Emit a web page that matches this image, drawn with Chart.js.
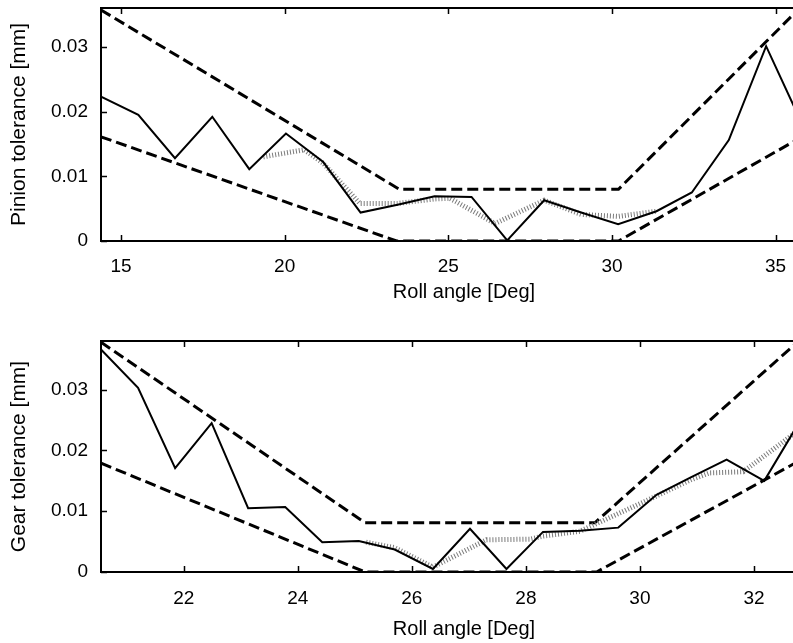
<!DOCTYPE html>
<html>
<head>
<meta charset="utf-8">
<script src="https://cdn.jsdelivr.net/npm/chart.js@4.4.1/dist/chart.umd.min.js"></script>
<style>
html, body { margin: 0; padding: 0; overflow: hidden; background: #fff; width: 793px; height: 643px; }
.box { position: absolute; left: 0; width: 827px; }
</style>
</head>
<body>
<div class="box" style="top:0;height:321px"><canvas id="pinion"></canvas></div>
<div class="box" style="top:321px;height:322px"><canvas id="gear"></canvas></div>
<script>
// Pinion (top plot)
const pinionAngle = [14.39, 15.53, 16.65, 17.79, 18.92, 20.04, 21.18, 22.32, 23.45, 24.58, 25.71, 26.80, 27.93, 29.06, 30.19, 31.36, 32.44, 33.57, 34.71, 35.88];
const pinionTol   = [0.0223, 0.0195, 0.0128, 0.0192, 0.0111, 0.0166, 0.0122, 0.0044, 0.0056, 0.0069, 0.0068, 0.0001, 0.0063, 0.0044, 0.0026, 0.0046, 0.0075, 0.0156, 0.0301, 0.0173];
// dotted curve, only the part where it leaves the solid one
const pinionAltAngle = [19.35, 20.60, 21.18, 22.30, 23.45, 24.58, 25.05, 26.43, 27.93, 29.06, 30.19, 31.36];
const pinionAltTol   = [0.0130, 0.0141, 0.0120, 0.0058, 0.0058, 0.0065, 0.0066, 0.0027, 0.0063, 0.0041, 0.0038, 0.0046];
const pinionUpperAngle = [14.39, 23.50, 30.20, 35.60];
const pinionUpperTol   = [0.0357, 0.0080, 0.0080, 0.0353];
const pinionLowerAngle = [14.39, 23.42, 30.20, 35.60];
const pinionLowerTol   = [0.0161, 0.0000, 0.0000, 0.0155];

// Gear (bottom plot)
const gearAngle = [20.55, 21.20, 21.85, 22.49, 23.13, 23.78, 24.43, 25.07, 25.70, 26.37, 27.02, 27.66, 28.30, 28.95, 29.62, 30.29, 30.90, 31.52, 32.18, 32.81];
const gearTol   = [0.0366, 0.0303, 0.0171, 0.0245, 0.0105, 0.0107, 0.0049, 0.0051, 0.0037, 0.0005, 0.0071, 0.0005, 0.0066, 0.0068, 0.0073, 0.0127, 0.0156, 0.0185, 0.0150, 0.0249];
const gearAltAngle = [25.20, 25.70, 26.37, 27.31, 28.07, 28.30, 28.95, 29.62, 30.29, 30.90, 31.22, 31.81, 32.81];
const gearAltTol   = [0.0049, 0.0040, 0.0008, 0.0053, 0.0054, 0.0059, 0.0067, 0.0096, 0.0125, 0.0152, 0.0163, 0.0165, 0.0235];
const gearUpperAngle = [20.55, 25.18, 29.21, 32.70];
const gearUpperTol   = [0.0378, 0.0081, 0.0081, 0.0373];
const gearLowerAngle = [20.55, 25.18, 29.24, 32.70];
const gearLowerTol   = [0.0179, 0.0000, 0.0000, 0.0178];

const yTicks = ["0", "0.01", "0.02", "0.03"];
const FONT = "'Liberation Sans', Arial, sans-serif";

function pts(xs, ys) {
    return xs.map((x, i) => ({ x: x, y: ys[i] }));
}

// box round the plot and inward tick marks
const framePlugin = {
    id: "frame",
    afterDraw(chart) {
        const { ctx, chartArea: a, scales } = chart;
        ctx.save();
        ctx.strokeStyle = "#000";
        ctx.lineWidth = 2;
        ctx.beginPath();
        ctx.rect(a.left, a.top, a.right - a.left, a.bottom - a.top);
        ctx.stroke();
        ctx.lineWidth = 1.5;
        ctx.beginPath();
        scales.x.ticks.forEach(t => {
            const px = Math.round(scales.x.getPixelForValue(t.value)) + 0.5;
            ctx.moveTo(px, a.bottom); ctx.lineTo(px, a.bottom - 6);
            ctx.moveTo(px, a.top); ctx.lineTo(px, a.top + 6);
        });
        scales.y.ticks.forEach(t => {
            const py = Math.round(scales.y.getPixelForValue(t.value)) + 0.5;
            ctx.moveTo(a.left, py); ctx.lineTo(a.left + 6, py);
        });
        ctx.stroke();
        ctx.restore();
    }
};

function makeChart(id, cfg) {
    const datasets = [
        { data: pts(cfg.angle, cfg.tol), borderColor: "#000", borderWidth: 2 },
        { data: pts(cfg.altAngle, cfg.altTol), borderColor: "#7a7a7a", borderWidth: 5, borderDash: [1, 2] },
        { data: pts(cfg.upAngle, cfg.upTol), borderColor: "#000", borderWidth: 3, borderDash: [11, 5] },
        { data: pts(cfg.loAngle, cfg.loTol), borderColor: "#000", borderWidth: 3, borderDash: [11, 5] }
    ];
    return new Chart(document.getElementById(id), {
        type: "line",
        data: { datasets: datasets },
        options: {
            responsive: true,
            maintainAspectRatio: false,
            animation: false,
            events: [],
            layout: { padding: { top: cfg.padTop, left: 0, right: 0, bottom: 0 } },
            elements: { point: { radius: 0 }, line: { tension: 0, fill: false } },
            plugins: { legend: { display: false }, tooltip: { enabled: false } },
            scales: {
                x: {
                    type: "linear",
                    min: cfg.xMin,
                    max: cfg.xMax,
                    grid: { display: false, drawTicks: false },
                    border: { display: false },
                    ticks: {
                        stepSize: cfg.xStep,
                        includeBounds: false,
                        padding: cfg.xTickPad,
                        color: "#000",
                        font: { family: FONT, size: 19 },
                        callback: v => String(v)
                    },
                    title: {
                        display: true,
                        text: "Roll angle [Deg]",
                        color: "#000",
                        padding: cfg.xTitlePad,
                        font: { family: FONT, size: 20 }
                    },
                    afterFit: s => {
                        s.height = cfg.xHeight;
                        s.paddingLeft = 0;
                        s.paddingRight = 0;
                    }
                },
                y: {
                    min: 0,
                    max: cfg.yMax,
                    grid: { display: false, drawTicks: false },
                    border: { display: false },
                    ticks: {
                        stepSize: 0.01,
                        includeBounds: false,
                        padding: 13,
                        color: "#000",
                        font: { family: FONT, size: 19 },
                        callback: (v, i) => yTicks[i]
                    },
                    title: {
                        display: true,
                        text: cfg.yTitle,
                        color: "#000",
                        padding: 7,
                        font: { family: FONT, size: 21 }
                    },
                    afterFit: s => {
                        s.width = 101;
                        s.paddingTop = 0;
                        s.paddingBottom = 0;
                    }
                }
            }
        },
        plugins: [framePlugin]
    });
}

makeChart("pinion", {
    angle: pinionAngle, tol: pinionTol,
    altAngle: pinionAltAngle, altTol: pinionAltTol,
    upAngle: pinionUpperAngle, upTol: pinionUpperTol,
    loAngle: pinionLowerAngle, loTol: pinionLowerTol,
    xMin: 14.39, xMax: 36.57, xStep: 5, yMax: 0.036,
    yTitle: "Pinion tolerance [mm]",
    padTop: 8, xHeight: 80, xTickPad: 14, xTitlePad: 17
});

makeChart("gear", {
    angle: gearAngle, tol: gearTol,
    altAngle: gearAltAngle, altTol: gearAltTol,
    upAngle: gearUpperAngle, upTol: gearUpperTol,
    loAngle: gearLowerAngle, loTol: gearLowerTol,
    xMin: 20.55, xMax: 33.28, xStep: 2, yMax: 0.038,
    yTitle: "Gear tolerance [mm]",
    padTop: 20, xHeight: 71, xTickPad: 15, xTitlePad: 2
});
</script>
</body>
</html>
